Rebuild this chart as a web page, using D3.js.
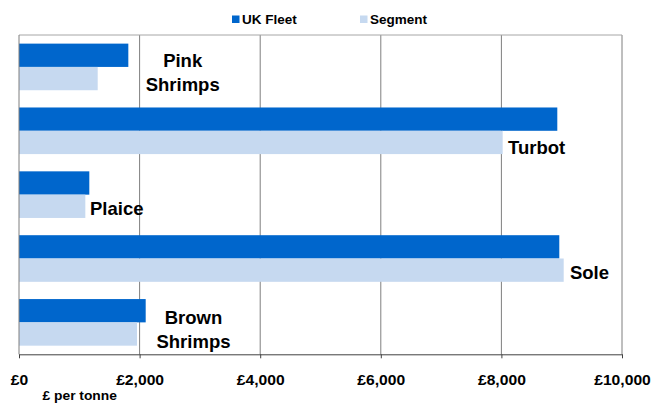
<!DOCTYPE html>
<html>
<head>
<meta charset="utf-8">
<script src="https://cdn.jsdelivr.net/npm/d3@7"></script>
<style>
  html, body { margin: 0; padding: 0; background: #fff; }
  svg { display: block; font-family: "Liberation Sans", Arial, sans-serif; }
</style>
</head>
<body>
<svg id="chart" width="656" height="403"></svg>
<script>
// ---- data ----
const categories = ["Pink Shrimps", "Turbot", "Plaice", "Sole", "Brown Shrimps"];
const seriesNames = ["UK Fleet", "Segment"];
const ukFleet = [1813, 8927, 1166, 8960, 2101];
const segment = [1305, 8021, 1100, 9033, 1957];
const tickValues = [0, 2000, 4000, 6000, 8000, 10000];
const tickLabels = ["£0", "£2,000", "£4,000", "£6,000", "£8,000", "£10,000"];
const axisTitle = "£ per tonne";
const labelLines = [["Pink", "Shrimps"], ["Turbot"], ["Plaice"], ["Sole"], ["Brown", "Shrimps"]];

// ---- layout ----
const colors = { "UK Fleet": "#0066CC", "Segment": "#C6D9F0" };
const plot = { left: 19, right: 622, top: 35, bottom: 354.3 };
// label layout: anchor relative to end of Segment bar (dx) and band start (dy list)
const labelLayout = [
  { anchor: "middle", dx: 85, dy: [23.7, 47.4] },
  { anchor: "start", dx: 5.3, dy: [46.5] },
  { anchor: "start", dx: 4.7, dy: [43.7] },
  { anchor: "start", dx: 6.3, dy: [43.8] },
  { anchor: "middle", dx: 56.5, dy: [25.3, 48.7] }
];

const svg = d3.select("#chart");
const x = d3.scaleLinear().domain([0, 10000]).range([plot.left, plot.right]);
const y = d3.scaleBand().domain(categories).range([plot.top, plot.bottom])
  .paddingInner(0.27).paddingOuter(0.135);
const ySub = d3.scaleBand().domain(seriesNames).range([0, y.bandwidth()]);

const rows = categories.map((c, i) => ({ cat: c, values: [
  { key: "UK Fleet", v: ukFleet[i] }, { key: "Segment", v: segment[i] }
]}));

// gridlines
svg.append("g").selectAll("line").data(tickValues.slice(1)).join("line")
  .attr("x1", d => x(d)).attr("x2", d => x(d))
  .attr("y1", plot.top).attr("y2", plot.bottom)
  .attr("stroke", "#7f7f7f").attr("stroke-width", 1);

// top border
svg.append("line").attr("x1", plot.left).attr("x2", plot.right)
  .attr("y1", plot.top).attr("y2", plot.top)
  .attr("stroke", "#a6a6a6").attr("stroke-width", 1);

// bars
const g = svg.append("g");
g.selectAll("g.row").data(rows).join("g").attr("class", "row")
  .attr("transform", d => `translate(0,${y(d.cat)})`)
  .selectAll("rect").data(d => d.values).join("rect")
  .attr("x", x(0))
  .attr("y", d => ySub(d.key))
  .attr("width", d => x(d.v) - x(0))
  .attr("height", ySub.bandwidth())
  .attr("fill", d => colors[d.key]);

// left axis line
svg.append("line").attr("x1", plot.left).attr("x2", plot.left)
  .attr("y1", plot.top).attr("y2", plot.bottom)
  .attr("stroke", "#7f7f7f").attr("stroke-width", 1);

// bottom axis
const xAxis = d3.axisBottom(x).tickValues(tickValues).tickSize(4).tickSizeOuter(0)
  .tickFormat((d, i) => tickLabels[i]);
const ax = svg.append("g").attr("transform", `translate(0,${plot.bottom})`).call(xAxis);
ax.select(".domain").attr("stroke", "#404040");
ax.selectAll(".tick line").attr("stroke", "#404040");
ax.selectAll(".tick text")
  .attr("y", 0).attr("dy", null)
  .attr("transform", "translate(0,30.7) scale(1.12,1)")
  .attr("font-size", 14).attr("font-weight", "bold")
  .attr("font-family", "Liberation Sans, Arial, sans-serif")
  .attr("fill", "#000");

// axis title
svg.append("text")
  .attr("transform", "translate(79.7,400) scale(1.15,1)")
  .attr("text-anchor", "middle").attr("font-size", 12).attr("font-weight", "bold")
  .text(axisTitle);

// category labels
categories.forEach((c, i) => {
  const L = labelLayout[i];
  const t = svg.append("text")
    .attr("text-anchor", L.anchor)
    .attr("font-size", 18.5).attr("font-weight", "bold").attr("fill", "#000");
  labelLines[i].forEach((line, j) => {
    t.append("tspan")
      .attr("x", x(segment[i]) + L.dx)
      .attr("y", y(c) + L.dy[j])
      .text(line);
  });
});

// legend
const legendPos = [232, 360];
seriesNames.forEach((s, i) => {
  const lg = svg.append("g").attr("transform", `translate(${legendPos[i]},0)`);
  lg.append("rect").attr("x", 0).attr("y", 15.5).attr("width", 7.5).attr("height", 7.5)
    .attr("fill", colors[s]);
  lg.append("text").attr("transform", "translate(10,24) scale(1.04,1)")
    .attr("font-size", 13).attr("font-weight", "bold").text(s);
});
</script>
</body>
</html>
